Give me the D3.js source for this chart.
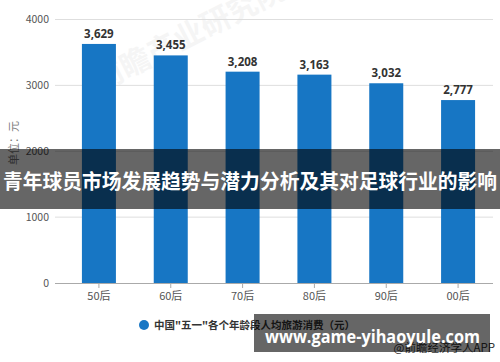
<!DOCTYPE html>
<html><head><meta charset="utf-8">
<script src="https://cdn.jsdelivr.net/npm/d3@7"></script>
<style>
html,body{margin:0;padding:0;background:#fff;}
svg{display:block;font-family:"Noto Sans CJK SC","Noto Sans",sans-serif;}
</style></head>
<body>
<svg id="c" width="500" height="362"></svg>
<script>
const categories = ["50后","60后","70后","80后","90后","00后"];
const values = [3629, 3455, 3208, 3163, 3032, 2777];
const yTicks = [0, 1000, 2000, 3000, 4000];
const seriesName = "中国\"五一\"各个年龄段人均旅游消费（元）";
const yLabel = "单位：元";
const source = "@前瞻经济学人APP";
const overlayTitle = "青年球员市场发展趋势与潜力分析及其对足球行业的影响";
const siteMark = "www.game-yihaoyule.com";

const svg = d3.select("#c");
const x = d3.scaleBand().domain(categories).range([63, 494]);
const y = d3.scaleLinear().domain([0, 4000]).range([283, 19.5]);
const barW = 34;
const barColor = "#1776c4";

// faint watermark
svg.append("text").attr("transform","translate(100,92) rotate(-27)")
  .attr("font-size",30).attr("font-weight","bold").attr("fill","#000").attr("opacity",0.035)
  .text("前瞻产业研究院");

// gridlines
svg.append("g").selectAll("line").data(yTicks.filter(d=>d>0)).join("line")
  .attr("x1",55).attr("x2",493).attr("y1",d=>y(d)).attr("y2",d=>y(d))
  .attr("stroke","#dedede").attr("stroke-width",1);

// y tick labels
svg.append("g").selectAll("text").data(yTicks).join("text")
  .attr("x",49).attr("y",d=>y(d)).attr("dy","0.35em").attr("text-anchor","end")
  .attr("font-size",10.5).attr("fill","#555").text(d=>d);

// y label
svg.append("text").attr("transform","translate(14,143) rotate(-90)")
  .attr("text-anchor","middle").attr("dy","0.35em")
  .attr("font-size",11).attr("fill","#777").text(yLabel);

// bars
svg.append("g").selectAll("rect").data(values).join("rect")
  .attr("x",(d,i)=>x(categories[i]) + (x.bandwidth()-barW)/2)
  .attr("width",barW)
  .attr("y",d=>y(d)).attr("height",d=>y(0)-y(d))
  .attr("fill",barColor);

// value labels
svg.append("g").selectAll("text").data(values).join("text")
  .attr("x",(d,i)=>x(categories[i]) + x.bandwidth()/2)
  .attr("y",d=>y(d)-6).attr("text-anchor","middle")
  .attr("font-size",11.5).attr("font-weight","bold").attr("fill","#333")
  .attr("font-family","'Open Sans','DejaVu Sans',sans-serif")
  .text(d=>d3.format(",")(d));

// baseline
svg.append("line").attr("x1",55).attr("x2",493).attr("y1",y(0)+0.5).attr("y2",y(0)+0.5)
  .attr("stroke","#aaa").attr("stroke-width",1);
// x ticks
svg.append("g").selectAll("line").data(categories).join("line")
  .attr("x1",d=>x(d)+x.bandwidth()/2).attr("x2",d=>x(d)+x.bandwidth()/2)
  .attr("y1",y(0)).attr("y2",y(0)+5).attr("stroke","#aaa");
svg.append("g").selectAll("text").data(categories).join("text")
  .attr("x",d=>x(d)+x.bandwidth()/2).attr("y",296).attr("dy","0.35em")
  .attr("text-anchor","middle").attr("font-size",11).attr("fill","#555").text(d=>d);

// legend
svg.append("circle").attr("cx",144).attr("cy",325).attr("r",5).attr("fill",barColor);
svg.append("text").attr("x",154).attr("y",325).attr("dy","0.35em")
  .attr("font-size",10.6).attr("font-weight","bold").attr("fill","#333")
  .attr("textLength",201).attr("lengthAdjust","spacingAndGlyphs").text(seriesName);

// source
svg.append("text").attr("x",495).attr("y",348).attr("dy","0.35em").attr("text-anchor","end")
  .attr("font-size",11.5).attr("fill","#333").text(source);

// overlay title band
svg.append("rect").attr("x",0).attr("y",149).attr("width",500).attr("height",60)
  .attr("fill","rgba(0,0,0,0.6)");
svg.append("text").attr("x",3).attr("y",182).attr("dy","0.36em")
  .attr("font-size",20.5).attr("font-weight","bold").attr("fill","#fff")
  .attr("textLength",494).attr("lengthAdjust","spacingAndGlyphs")
  .text(overlayTitle);

// bottom site band
svg.append("rect").attr("x",254).attr("y",314).attr("width",236).attr("height",38)
  .attr("fill","rgba(0,0,0,0.6)");
svg.append("text").attr("x",265).attr("y",343)
  .attr("font-size",18).attr("font-weight","bold").attr("fill","#fff")
  .attr("font-family","'Open Sans','DejaVu Sans',sans-serif")
  .attr("textLength",215).attr("lengthAdjust","spacingAndGlyphs")
  .text(siteMark);
</script>
</body></html>
